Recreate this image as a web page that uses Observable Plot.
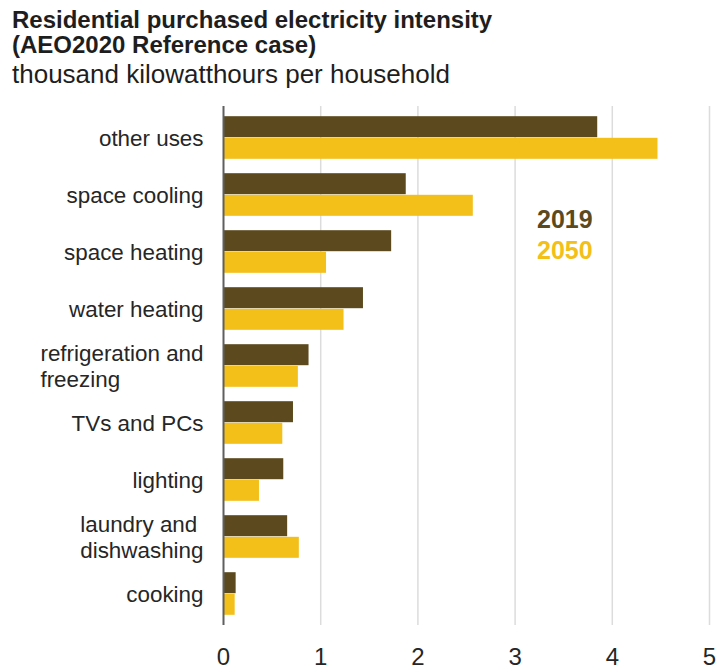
<!DOCTYPE html>
<html>
<head>
<meta charset="utf-8">
<script src="https://cdn.jsdelivr.net/npm/d3@7"></script>
<script src="https://cdn.jsdelivr.net/npm/@observablehq/plot@0.6"></script>
<style>
  html, body { margin: 0; padding: 0; background: #fff; }
  #wrap { position: relative; width: 716px; height: 671px; font-family: "Liberation Sans", Arial, sans-serif; color: #1e1e1e; overflow: hidden; }
  #title { position: absolute; left: 12px; top: 7px; font-size: 24px; font-weight: bold; line-height: 25px; white-space: nowrap; }
  #subtitle { position: absolute; left: 12px; top: 59px; font-size: 26px; line-height: 30px; white-space: nowrap; }
  #chart { position: absolute; left: 0; top: 100px; }
  .leg { position: absolute; font-size: 25px; font-weight: bold; line-height: 25px; white-space: nowrap; }
</style>
</head>
<body>
<div id="wrap">
  <div id="title">Residential purchased electricity intensity<br>(AEO2020 Reference case)</div>
  <div id="subtitle">thousand kilowatthours per household</div>
  <div id="chart"></div>
  <div id="legend"></div>
</div>
<script>
const categories = ["other uses", "space cooling", "space heating", "water heating", "refrigeration and freezing", "TVs and PCs", "lighting", "laundry and dishwashing", "cooking"];
const categoryLabels = ["other uses", "space cooling", "space heating", "water heating", "refrigeration and\nfreezing", "TVs and PCs", "lighting", "laundry and \ndishwashing", "cooking"];
const years = ["2019", "2050"];
const values2019 = [3.85, 1.88, 1.73, 1.44, 0.88, 0.72, 0.62, 0.66, 0.13];
const values2050 = [4.47, 2.57, 1.06, 1.24, 0.77, 0.61, 0.37, 0.78, 0.12];
const xTicks = [0, 1, 2, 3, 4, 5];
const colors = ["#5c4a1e", "#f3bf19"];

const data = [];
categories.forEach((c, i) => {
  data.push({category: c, year: years[0], value: values2019[i]});
  data.push({category: c, year: years[1], value: values2050[i]});
});
const labelOf = new Map(categories.map((c, i) => [c, categoryLabels[i]]));
const gap = 7.2, bar = 21.6;

const chart = Plot.plot({
  width: 716,
  height: 571,
  marginTop: 6,
  marginBottom: 46,
  marginLeft: 223,
  marginRight: 7,
  style: { fontFamily: "'Liberation Sans', Arial, sans-serif", color: "#262626", overflow: "visible", background: "transparent" },
  x: { domain: [0, 5], axis: null },
  y: { domain: categories, padding: 0, axis: null },
  color: { domain: years, range: colors },
  marks: [
    Plot.ruleX(xTicks.filter(d => d > 0), { stroke: "#dcdcdc", strokeWidth: 1.5 }),
    Plot.barX(data.filter(d => d.year === years[0]), { x: "value", y: "category", fill: "year", insetTop: gap, insetBottom: gap + bar }),
    Plot.barX(data.filter(d => d.year === years[1]), { x: "value", y: "category", fill: "year", insetTop: gap + bar, insetBottom: gap }),
    Plot.ruleX([0], { stroke: "#5f5f5f", strokeWidth: 2 }),
    Plot.axisX(xTicks, { tickSize: 0, tickPadding: 22, fontSize: 24, fill: "#262626", label: null }),
    Plot.axisY({ tickSize: 0, tickPadding: 20, fontSize: 22.4, lineHeight: 1.12, fill: "#262626", label: null, tickFormat: d => labelOf.get(d) })
  ]
});
document.getElementById("chart").appendChild(chart);

// left-align the lines of the multi-line category labels (right edge kept at the axis padding)
chart.querySelectorAll("text").forEach(t => {
  const spans = t.querySelectorAll("tspan");
  if (spans.length > 1) {
    const w = t.getBBox().width;
    t.setAttribute("text-anchor", "start");
    spans.forEach(s => s.setAttribute("x", -w));
  }
});

const legend = document.getElementById("legend");
const legendTops = [207, 238];
years.forEach((y, i) => {
  const el = document.createElement("div");
  el.className = "leg";
  el.textContent = y;
  el.style.left = "537px";
  el.style.top = legendTops[i] + "px";
  el.style.color = colors[i];
  legend.appendChild(el);
});
</script>
</body>
</html>
